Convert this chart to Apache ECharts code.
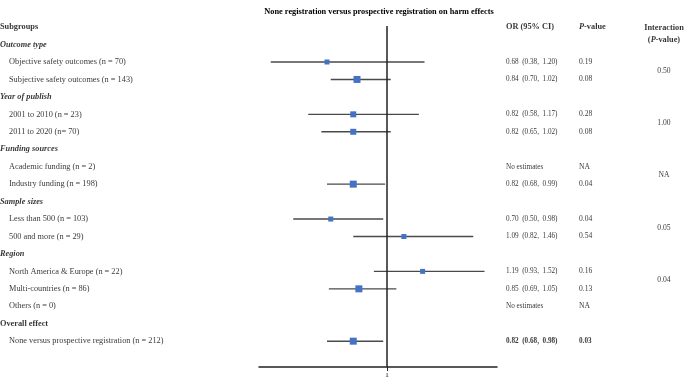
<!DOCTYPE html>
<html>
<head>
<meta charset="utf-8">
<script src="https://cdn.jsdelivr.net/npm/echarts@6/dist/echarts.min.js"></script>
<style>
  html, body { margin: 0; padding: 0; background: #fff; }
  #chart { width: 685px; height: 380px; }
</style>
</head>
<body>
<div id="chart"></div>
<script>
// subgroup rows, top to bottom
const rowLabels = [
    'Outcome type',
    'Objective safety outcomes (n = 70)',
    'Subjective safety outcomes (n = 143)',
    'Year of publish',
    '2001 to 2010 (n = 23)',
    '2011 to 2020 (n= 70)',
    'Funding sources',
    'Academic funding (n = 2)',
    'Industry funding (n = 198)',
    'Sample sizes',
    'Less than 500 (n = 103)',
    '500 and more (n = 29)',
    'Region',
    'North America & Europe (n = 22)',
    'Multi-countries (n = 86)',
    'Others (n = 0)',
    'Overall effect',
    'None versus prospective registration (n = 212)'
];
const headerRows = [0, 3, 6, 9, 12, 16];
const overallRow = 17;

const orVals = [null, 0.68, 0.84, null, 0.82, 0.82, null, null, 0.82, null, 0.70, 1.09, null, 1.19, 0.85, null, null, 0.82];
const ciLow  = [null, 0.38, 0.70, null, 0.58, 0.65, null, null, 0.68, null, 0.50, 0.82, null, 0.93, 0.69, null, null, 0.68];
const ciHigh = [null, 1.20, 1.02, null, 1.17, 1.02, null, null, 0.99, null, 0.98, 1.46, null, 1.52, 1.05, null, null, 0.98];
const pText  = ['', '0.19', '0.08', '', '0.28', '0.08', '', 'NA', '0.04', '', '0.04', '0.54', '', '0.16', '0.13', 'NA', '', '0.03'];

const interactionText = ['0.50', '1.00', 'NA', '0.05', '0.04'];
const interactionRows = [1.5, 4.5, 7.5, 10.5, 13.5];

const xTicks = [1];

// marker sizes (style only)
const boxSize = [0, 5, 7, 0, 6, 6, 0, 0, 7, 0, 5, 5, 0, 5, 7, 0, 0, 7];

const FONT = 'Liberation Serif';
const TOP = 26, HEIGHT = 341;
const Y_MIN = -1.063, Y_MAX = 18.48;

let myChart = echarts.init(document.getElementById('chart'));

const rowAxis = (gi) => ({
    type: 'value', gridIndex: gi, inverse: true, min: Y_MIN, max: Y_MAX, show: false
});
const blankX = (gi) => ({
    type: 'value', gridIndex: gi, min: 0, max: 1, show: false
});

const itemRows = rowLabels.map((_, i) => i).filter(i => headerRows.indexOf(i) < 0);
const plotRows = itemRows.filter(i => orVals[i] != null);

const orText = (i) => orVals[i] == null
    ? 'No estimates'
    : orVals[i].toFixed(2) + '  (' + ciLow[i].toFixed(2) + ',  ' + ciHigh[i].toFixed(2) + ')';

const textSeries = (gi, rows, fmt, label) => ({
    type: 'scatter',
    xAxisIndex: gi,
    yAxisIndex: gi,
    symbolSize: 0,
    silent: true,
    data: rows.map(r => [0, r]),
    label: Object.assign({
        show: true,
        position: 'right',
        distance: 0,
        color: '#000',
        fontFamily: FONT,
        fontSize: 8.3,
        formatter: p => fmt(p.data[1])
    }, label)
});

const rich = {
    b: { fontFamily: FONT, fontSize: 8.3, fontWeight: 'bold', color: '#000' },
    bi: { fontFamily: FONT, fontSize: 8.3, fontWeight: 'bold', fontStyle: 'italic', color: '#000' }
};
const richSmall = {
    b: { fontFamily: FONT, fontSize: 7.2, fontWeight: 'bold', color: '#000' }
};

let option = {
    animation: false,
    title: {
        text: 'None registration versus prospective registration on harm effects',
        left: 374,
        top: 3,
        textAlign: 'center',
        textStyle: { fontFamily: FONT, fontSize: 8.3, fontWeight: 'bold', color: '#000' }
    },
    grid: [
        { left: 259, width: 238, top: TOP, height: HEIGHT },   // forest plot
        { left: 0, width: 1, top: TOP, height: HEIGHT },       // subgroup labels
        { left: 506, width: 1, top: TOP, height: HEIGHT },     // OR (95% CI)
        { left: 579, width: 1, top: TOP, height: HEIGHT },     // P-value
        { left: 664, width: 1, top: TOP, height: HEIGHT }      // interaction
    ],
    xAxis: [
        {
            type: 'value', gridIndex: 0, min: 0.3173, max: 1.5867, position: 'bottom',
            splitLine: { show: false },
            axisLine: { onZero: false, lineStyle: { color: '#222', width: 1.5 } },
            axisTick: { customValues: xTicks, length: 4, lineStyle: { color: '#222' } },
            axisLabel: { customValues: xTicks, margin: 5, fontFamily: FONT, fontSize: 7, color: '#000' }
        },
        blankX(1), blankX(2), blankX(3), blankX(4)
    ],
    yAxis: [rowAxis(0), rowAxis(1), rowAxis(2), rowAxis(3), rowAxis(4)],
    series: [
        {
            // confidence intervals
            type: 'custom',
            xAxisIndex: 0,
            yAxisIndex: 0,
            silent: true,
            data: plotRows.map(r => [ciLow[r], ciHigh[r], r]),
            renderItem: (params, api) => {
                const a = api.coord([api.value(0), api.value(2)]);
                const b = api.coord([api.value(1), api.value(2)]);
                return {
                    type: 'line',
                    shape: { x1: a[0], y1: a[1], x2: b[0], y2: b[1] },
                    style: { stroke: '#4a4a4a', lineWidth: 1.4 }
                };
            },
            markLine: {
                silent: true,
                symbol: 'none',
                label: { show: false },
                lineStyle: { color: '#222', width: 1.5, type: 'solid' },
                data: [{ xAxis: 1 }]
            }
        },
        {
            // odds ratio boxes
            type: 'scatter',
            xAxisIndex: 0,
            yAxisIndex: 0,
            symbol: 'rect',
            silent: true,
            data: plotRows.map(r => [orVals[r], r]),
            symbolSize: (v) => boxSize[v[1]],
            itemStyle: { color: '#4472C4', opacity: 1 }
        },
        // column headers
        textSeries(1, [-1], () => '{b|Subgroups}', { rich }),
        textSeries(2, [-1], () => '{b|OR (95% CI)}', { rich }),
        textSeries(3, [-1], () => '{bi|P}{b|-value}', { rich }),
        textSeries(4, [-1], () => '{b|Interaction}\n{b|(}{bi|P}{b|-value)}', {
            rich, position: 'inside', align: 'center', verticalAlign: 'top', lineHeight: 11.7, offset: [0, -5]
        }),
        // subgroup labels
        textSeries(1, headerRows, (r) => r === 16 ? '{b|' + rowLabels[r] + '}' : '{bi|' + rowLabels[r] + '}', { rich }),
        textSeries(1, itemRows, (r) => rowLabels[r], { offset: [9, 0] }),
        // OR and p values
        textSeries(2, itemRows, (r) => r === overallRow ? '{b|' + orText(r) + '}' : orText(r), { rich: richSmall, fontSize: 7.2 }),
        textSeries(3, itemRows, (r) => r === overallRow ? '{b|' + pText[r] + '}' : pText[r], { rich: richSmall, fontSize: 7.6 }),
        // interaction p values
        textSeries(4, interactionRows, (r) => interactionText[interactionRows.indexOf(r)], {
            position: 'inside', align: 'center', verticalAlign: 'middle', fontSize: 7.6
        })
    ]
};

myChart.setOption(option);
</script>
</body>
</html>
